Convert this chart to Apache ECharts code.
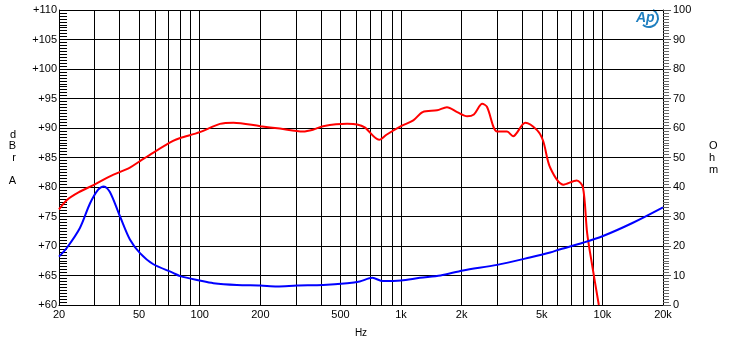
<!DOCTYPE html>
<html>
<head>
<meta charset="utf-8">
<script src="https://cdn.jsdelivr.net/npm/echarts@6/dist/echarts.min.js"></script>
<style>
  html, body { margin: 0; padding: 0; background: #fff; }
  #chart { width: 730px; height: 343px; }
</style>
</head>
<body>
<div id="chart"></div>
<script>
  // frequency response (dBrA)
  var splFreq = [20, 21.9, 25, 30, 35.8, 45, 50.5, 58.6, 73.7, 80, 100, 126, 147, 200, 250, 326, 365, 410, 540, 605, 660, 778, 850, 1000, 1150, 1280, 1510, 1690, 1900, 2130, 2300, 2530, 2670, 3000, 3360, 3600, 4140, 4750, 5080, 5500, 6400, 7460, 8000, 8400, 8900, 9600];
  var splDb = [76.2, 77.8, 79.1, 80.4, 81.8, 83.3, 84.4, 85.8, 87.8, 88.3, 89.3, 90.7, 90.9, 90.3, 89.9, 89.4, 89.7, 90.3, 90.7, 90.6, 90.1, 88.0, 88.9, 90.3, 91.3, 92.7, 93.0, 93.5, 92.7, 92.0, 92.3, 94.1, 93.6, 89.4, 89.4, 88.6, 90.9, 89.6, 87.8, 83.3, 80.4, 81.1, 80.0, 72.2, 66.7, 60.0];

  // impedance (Ohm)
  var impFreq = [20, 21.9, 25.4, 28.5, 31.3, 33.4, 35.8, 40.2, 45, 50.5, 58.6, 73.7, 80, 100, 117, 153, 200, 242, 304, 410, 540, 623, 720, 813, 1000, 1240, 1570, 2030, 3000, 4360, 5500, 6180, 8000, 10000, 14100, 20000];
  var impOhm = [16.4, 19.4, 26.1, 34.4, 39.1, 40.2, 38.3, 30.0, 22.2, 17.6, 13.9, 10.9, 9.8, 8.3, 7.4, 6.8, 6.6, 6.3, 6.6, 6.8, 7.4, 8.0, 9.2, 8.1, 8.3, 9.2, 10.0, 11.7, 13.6, 16.1, 17.8, 18.9, 21.1, 23.3, 27.8, 33.1];

  // axis ticks
  var gridFreqs = [20, 30, 40, 50, 60, 70, 80, 90, 100, 200, 300, 400, 500, 600, 700, 800, 900, 1000, 2000, 3000, 4000, 5000, 6000, 7000, 8000, 9000, 10000, 20000];
  var labelFreqs = [20, 50, 100, 200, 500, 1000, 2000, 5000, 10000, 20000];

  function zip(xs, ys) {
    return xs.map(function (x, i) { return [x, ys[i]]; });
  }

  var font = 'Liberation Sans';
  var myChart = echarts.init(document.getElementById('chart'));
  myChart.setOption({
    backgroundColor: '#fff',
    animation: false,
    textStyle: { fontFamily: font },
    grid: { left: 59, right: 67, top: 10, bottom: 33 },
    graphic: [{
      type: 'arc',
      shape: { cx: 649, cy: 18, r: 9, startAngle: -1.1, endAngle: 2.3 },
      style: { stroke: '#1f7fc0', lineWidth: 2, fill: null }
    }, {
      type: 'text',
      left: 636,
      top: 11,
      style: { text: 'Ap', fill: '#1f7fc0', font: 'italic bold 14px ' + font }
    }],
    xAxis: {
      type: 'log',
      logBase: 10,
      min: 20,
      max: 20000,
      name: 'Hz',
      nameLocation: 'middle',
      nameGap: 23,
      nameTextStyle: { color: '#000', fontSize: 10, fontFamily: font },
      axisLine: { lineStyle: { color: '#000', width: 1 } },
      axisTick: { show: false, customValues: gridFreqs },
      axisLabel: {
        customValues: labelFreqs,
        color: '#000',
        fontSize: 11,
        margin: 4,
        formatter: function (v) { return v >= 1000 ? (v / 1000) + 'k' : String(v); }
      },
      splitLine: { show: true, lineStyle: { color: '#000', width: 1 } }
    },
    yAxis: [{
      type: 'value',
      min: 60,
      max: 110,
      interval: 5,
      name: 'd\nB\nr\n\nA',
      nameLocation: 'middle',
      nameRotate: 0,
      nameGap: 43,
      nameTextStyle: { color: '#000', fontSize: 11, lineHeight: 11.5, fontFamily: font },
      axisLine: { show: true, lineStyle: { color: '#000', width: 1 } },
      axisTick: { show: true, inside: true, length: 8, lineStyle: { color: '#000', width: 1 } },
      minorTick: { show: true, splitNumber: 10, length: 8, lineStyle: { color: '#000', width: 1 } },
      axisLabel: {
        color: '#000',
        fontSize: 11,
        margin: 2,
        formatter: function (v) { return '+' + v; }
      },
      splitLine: { show: true, lineStyle: { color: '#000', width: 1 } }
    }, {
      type: 'value',
      min: 0,
      max: 100,
      interval: 10,
      position: 'right',
      name: 'O\nh\nm',
      nameLocation: 'middle',
      nameRotate: 0,
      nameGap: 46,
      nameTextStyle: { color: '#000', fontSize: 11, lineHeight: 12, fontFamily: font },
      axisLine: { show: true, lineStyle: { color: '#000', width: 1 } },
      axisTick: { show: true, length: 8, lineStyle: { color: '#555', width: 1 } },
      minorTick: { show: true, splitNumber: 10, length: 6, lineStyle: { color: '#666', width: 1 } },
      axisLabel: { color: '#000', fontSize: 11, margin: 10 },
      splitLine: { show: false }
    }],
    series: [{
      name: 'dBrA',
      type: 'line',
      yAxisIndex: 0,
      data: zip(splFreq, splDb),
      smooth: 0.3,
      showSymbol: false,
      lineStyle: { color: '#ff0000', width: 2 }
    }, {
      name: 'Ohm',
      type: 'line',
      yAxisIndex: 1,
      data: zip(impFreq, impOhm),
      smooth: 0.3,
      showSymbol: false,
      lineStyle: { color: '#0000ff', width: 2 }
    }]
  });
</script>
</body>
</html>
